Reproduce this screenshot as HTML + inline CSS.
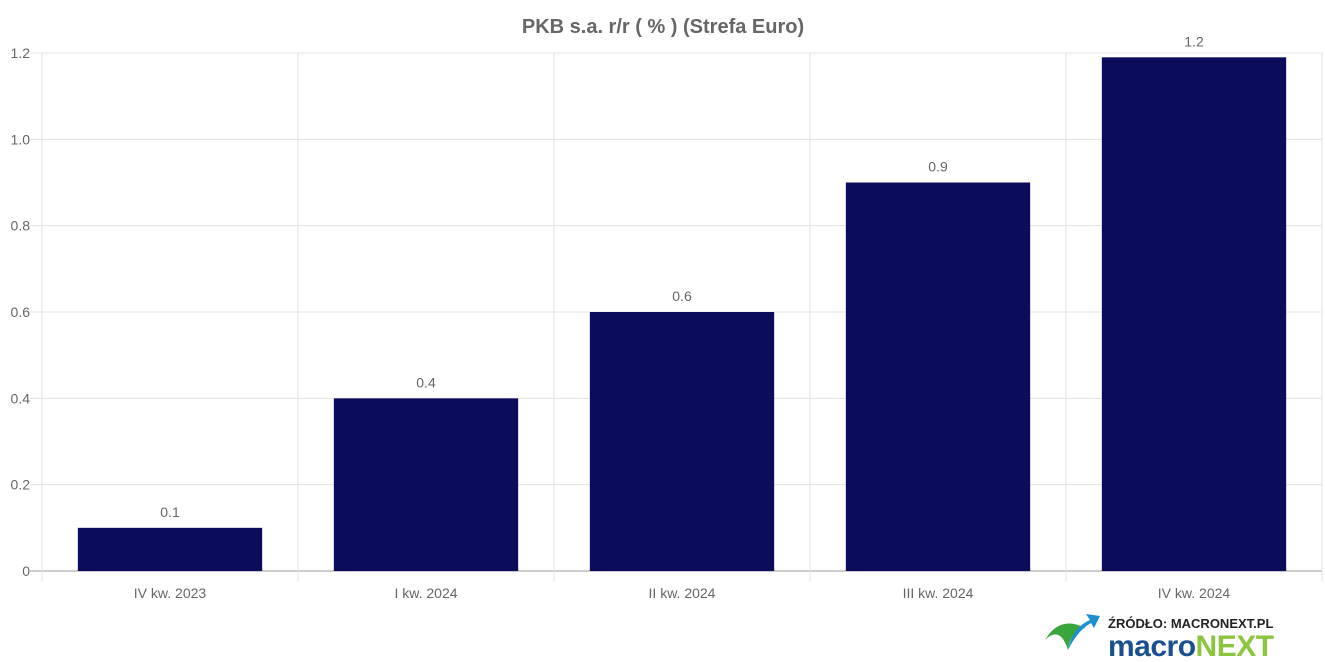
<!DOCTYPE html>
<html><head><meta charset="utf-8"><style>
body{margin:0;background:#fff;width:1325px;height:662px;overflow:hidden;font-family:"Liberation Sans",sans-serif}
svg{display:block}
</style></head><body>
<svg id="chart" width="1325" height="662">
<text x="663" y="33" text-anchor="middle" font-size="20" font-weight="bold" fill="#666">PKB s.a. r/r ( % ) (Strefa Euro)</text>
<g id="grid"></g><g id="bars"></g><g id="labels"></g>
<g>
<text x="1108" y="628" font-size="13" font-weight="bold" fill="#222">ŹRÓDŁO: MACRONEXT.PL</text>
<text x="1108" y="656" font-size="30" font-weight="bold" fill="#1b4f8f" letter-spacing="-0.5">macro<tspan fill="#8cc63f">NEXT</tspan></text>
<path d="M1045 640 Q1060 615 1085 628 Q1070 632 1068 650 Q1060 625 1045 640Z" fill="#3aa53a"/>
<path d="M1068 650 Q1072 628 1090 620 L1086 614 L1100 616 L1094 628 L1091 623 Q1078 630 1068 650Z" fill="#1a8fd0"/>
</g>
</svg>
<script>
const categories=["IV kw. 2023","I kw. 2024","II kw. 2024","III kw. 2024","IV kw. 2024"];
const values=[0.1,0.4,0.6,0.9,1.19];
const valueLabels=["0.1","0.4","0.6","0.9","1.2"];
const yTicks=[0,0.2,0.4,0.6,0.8,1.0,1.2];
const yTickLabels=["0","0.2","0.4","0.6","0.8","1.0","1.2"];
const NS="http://www.w3.org/2000/svg";
const L=42,R=1322,T=53,B=571,yMax=1.2;
const y=v=>B-(v/yMax)*(B-T);
const bw=(R-L)/categories.length;
const x=i=>L+i*bw;
function mk(tag,attrs,parent){const e=document.createElementNS(NS,tag);for(const k in attrs)e.setAttribute(k,attrs[k]);parent.appendChild(e);return e;}
const grid=document.getElementById('grid'),bars=document.getElementById('bars'),labels=document.getElementById('labels');
yTicks.forEach((t,i)=>{
 const ln=mk('line',{x1:30,x2:R,y1:y(t),y2:y(t),stroke:i===0?'#999':'#e3e3e3','stroke-width':1},grid);
 
 
 const tx=mk('text',{x:30,y:y(t)+5,'text-anchor':'end','font-size':14,fill:'#666'},grid);
 tx.textContent=yTickLabels[i];
 
 
});
for(let i=0;i<=categories.length;i++){
 const ln=mk('line',{x1:x(i),x2:x(i),y1:T,y2:582,stroke:'#e3e3e3','stroke-width':1},grid);
 
 
}
categories.forEach((c,i)=>{
 const cx=x(i)+bw/2,w=bw*0.72;
 const r=mk('rect',{x:cx-w/2,y:y(values[i]),width:w,height:B-y(values[i]),fill:'#0c0c5c'},bars);
 
 
 const v=mk('text',{x:cx,y:y(values[i])-11,'text-anchor':'middle','font-size':14,fill:'#666'},labels);
 v.textContent=valueLabels[i];
 
 
 const t=mk('text',{x:cx,y:598,'text-anchor':'middle','font-size':14,fill:'#666'},labels);
 t.textContent=c;
 
 
});
</script>
</body></html>
